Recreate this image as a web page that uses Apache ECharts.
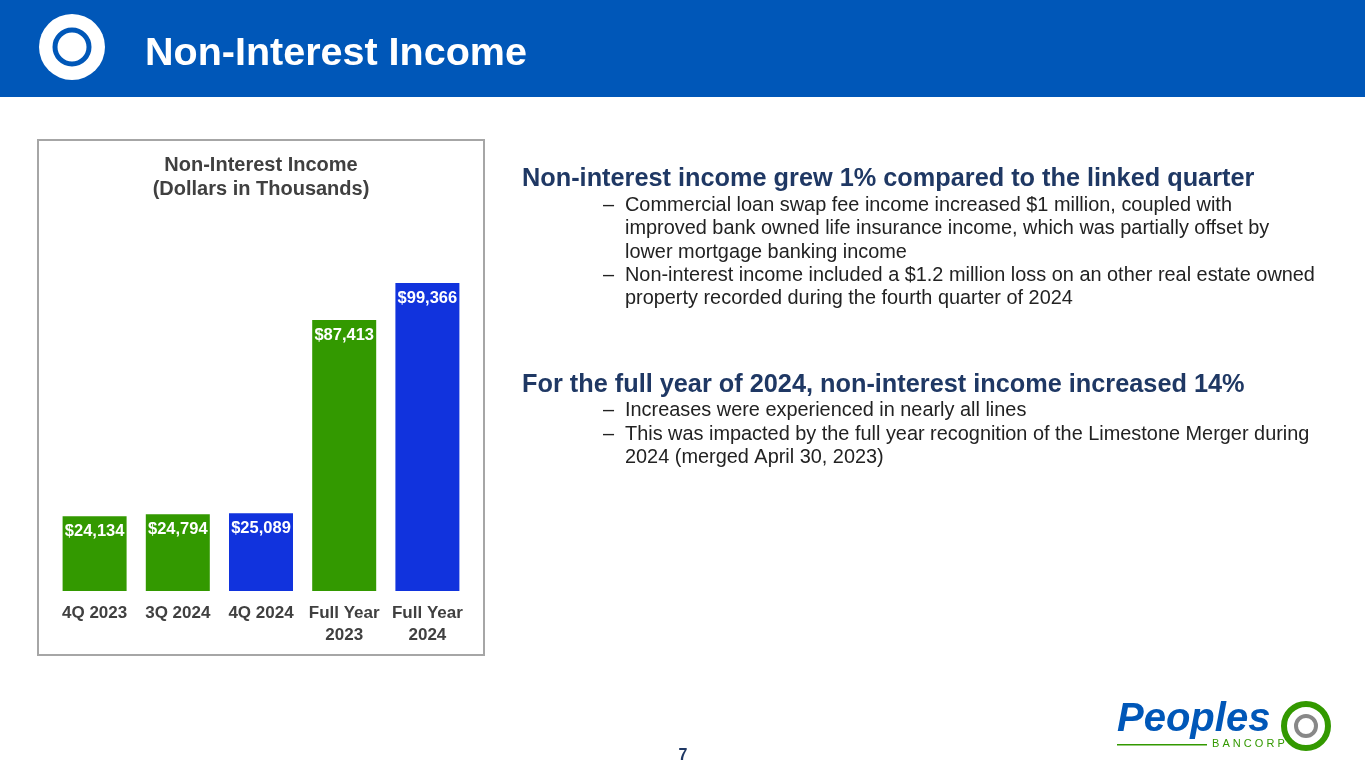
<!DOCTYPE html>
<html><head><meta charset="utf-8">
<script src="https://cdn.jsdelivr.net/npm/echarts@6/dist/echarts.min.js"></script>
<style>html,body{margin:0;padding:0;background:#fff}#c{width:1365px;height:768px}</style>
</head><body><div id="c"></div>
<script>
const categories = ['4Q 2023', '3Q 2024', '4Q 2024', 'Full Year\n2023', 'Full Year\n2024'];
const values = [24134, 24794, 25089, 87413, 99366];
const barColors = ['#339900', '#339900', '#1133dd', '#339900', '#1133dd'];

const F = '"Liberation Sans", Arial, sans-serif';
const navy = '#1f3864';
function txt(x, y, s, size, color, weight, align, lh) {
  return { type: 'text', x, y, style: { text: s, font: `${weight || 'normal'} ${size}px ${F}`, fill: color || '#222', textAlign: align || 'left', textVerticalAlign: 'top', lineHeight: lh || size * 1.2 } };
}
const bullets = [
  [522, 164, 'Non-interest income grew 1% compared to the linked quarter', true],
  [625, 194, 'Commercial loan swap fee income increased $1 million, coupled with\nimproved bank owned life insurance income, which was partially offset by\nlower mortgage banking income'],
  [625, 264, 'Non-interest income included a $1.2 million loss on an other real estate owned\nproperty recorded during the fourth quarter of 2024'],
  [522, 370, 'For the full year of 2024, non-interest income increased 14%', true],
  [625, 399, 'Increases were experienced in nearly all lines'],
  [625, 423, 'This was impacted by the full year recognition of the Limestone Merger during\n2024 (merged April 30, 2023)']
];
const gfx = [
  { type: 'rect', shape: { x: 0, y: 0, width: 1365, height: 97 }, style: { fill: '#0057b8' } },
  { type: 'circle', shape: { cx: 72, cy: 47, r: 33 }, style: { fill: '#fff' } },
  { type: 'circle', shape: { cx: 72, cy: 47, r: 17 }, style: { fill: 'none', stroke: '#0057b8', lineWidth: 5 } },
  txt(145, 30, 'Non-Interest Income', 39.5, '#fff', 'bold'),
  { type: 'rect', shape: { x: 38, y: 140, width: 446, height: 515 }, style: { fill: 'none', stroke: '#a6a6a6', lineWidth: 2 } },
  txt(261, 153, 'Non-Interest Income\n(Dollars in Thousands)', 20, '#404040', 'bold', 'center', 24),
  txt(683, 746, '7', 16, navy, 'bold', 'center'),
  { type: 'text', x: 1117, y: 700, style: { text: 'Peoples', font: `italic bold 40px ${F}`, fill: '#0057b8' } },
  { type: 'rect', shape: { x: 1117, y: 744, width: 90, height: 1.5 }, style: { fill: '#339900' } },
  txt(1212, 737, 'B A N C O R P', 11, '#339900', 'normal'),
  { type: 'circle', shape: { cx: 1306, cy: 726, r: 22 }, style: { fill: 'none', stroke: '#339900', lineWidth: 6 } },
  { type: 'circle', shape: { cx: 1306, cy: 726, r: 10 }, style: { fill: 'none', stroke: '#888', lineWidth: 4 } }
];
bullets.forEach(b => {
  if (b[3]) gfx.push(txt(b[0], b[1], b[2], 25.3, navy, 'bold'));
  else { gfx.push(txt(603, b[1], '–', 19.9, '#222')); gfx.push(txt(b[0], b[1], b[2], 19.9, '#222', 'normal', 'left', 23.3)); }
});

const chart = echarts.init(document.getElementById('c'));
chart.setOption({
  animation: false,
  grid: { left: 53, right: 1365 - 469, top: 283, bottom: 177 },
  xAxis: { type: 'category', data: categories, axisLine: { show: false }, axisTick: { show: false },
    axisLabel: { interval: 0, color: '#404040', fontWeight: 'bold', fontSize: 17, fontFamily: 'Liberation Sans', margin: 11, lineHeight: 22 } },
  yAxis: { type: 'value', min: 0, max: 99366, show: false, splitLine: { show: false } },
  series: [{ type: 'bar', barWidth: 64,
    data: values.map((v, i) => ({ value: v, itemStyle: { color: barColors[i] } })),
    label: { show: true, position: 'insideTop', distance: 7, color: '#fff', fontWeight: 'bold', fontSize: 16.5, fontFamily: 'Liberation Sans',
      formatter: p => '$' + p.value.toLocaleString('en-US') } }],
  graphic: gfx
});
</script></body></html>
